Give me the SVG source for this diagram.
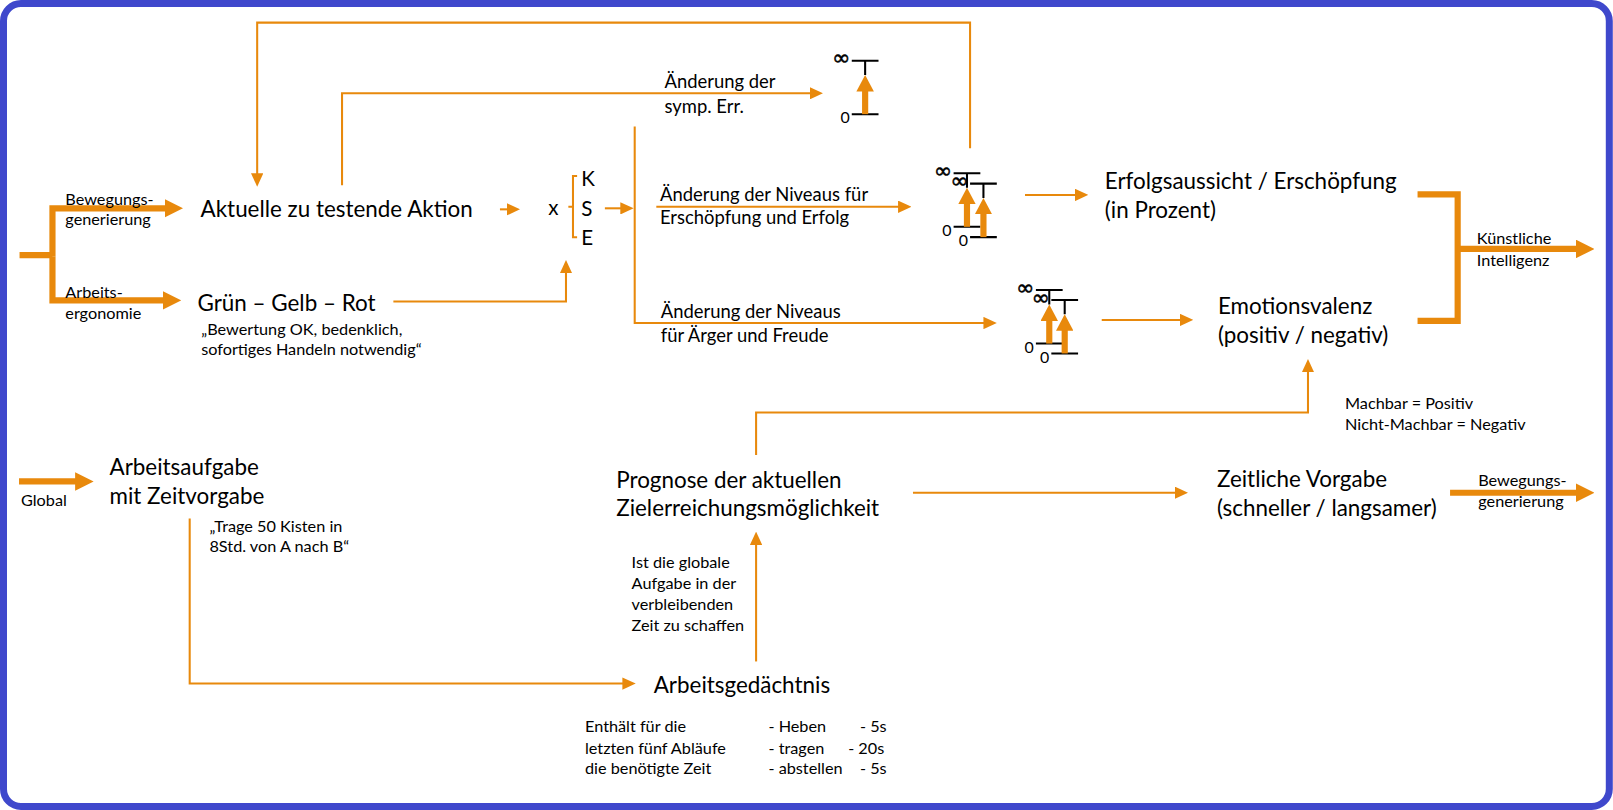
<svg xmlns="http://www.w3.org/2000/svg" width="1613" height="810" viewBox="0 0 1613 810">
<defs>
<style>
.t{font-family:Lato,"Liberation Sans",sans-serif;fill:#000}
.L{font-size:21.8px}
.M{font-size:17.9px}
.S{font-size:15.8px}
.inf{font-family:"DejaVu Sans",sans-serif;font-size:21px;fill:#000;stroke:#000;stroke-width:0.5}
.c{fill:none;stroke:#E8890C;stroke-width:2}
.ct{fill:none;stroke:#E8890C;stroke-width:6}
.a{marker-end:url(#ah)}
.at{marker-end:url(#aht)}
.k{stroke:#000;stroke-width:2;fill:none}
</style>
<marker id="ah" markerUnits="userSpaceOnUse" markerWidth="13" markerHeight="12" refX="1" refY="6" orient="auto"><path d="M0,0L13,6L0,12z" fill="#E8890C"/></marker>
<marker id="aht" markerUnits="userSpaceOnUse" markerWidth="18" markerHeight="18" refX="1" refY="9" orient="auto"><path d="M0,0L18,9L0,18z" fill="#E8890C"/></marker>
<marker id="ahg" markerUnits="userSpaceOnUse" markerWidth="16" markerHeight="17" refX="1" refY="8.5" orient="auto"><path d="M0,0L16,8.5L0,17z" fill="#E8890C"/></marker>
<g id="gauge">
<text class="inf" x="-32" y="4.5">∞</text>
<path class="k" d="M-13,0H13M0,0V14M-13,52H13"/>
<line x1="0" y1="52" x2="0" y2="29" stroke="#E8890C" stroke-width="6" marker-end="url(#ahg)"/>
<text class="t" x="-24" y="61" font-size="15.5">0</text>
</g>
</defs>
<rect width="1613" height="810" fill="#fff"/>
<g transform="scale(1.0287)">
<rect id="frame" x="3.4" y="3.4" width="1561" height="780.6" rx="17" fill="#fff" stroke="#3F48CC" stroke-width="6.8"/>

<g id="connectors">
<path class="c a" d="M943,144V22H250V169.5"/>
<path class="c a" d="M332.5,180V90.7H788"/>
<path class="c a" d="M486,203.5H493.5"/>
<path class="c a" d="M588,202.5H604"/>
<path class="c a" d="M617,123V314H957"/>
<path class="c a" d="M638,201H874"/>
<path class="c a" d="M996.4,189.5H1046"/>
<path class="c a" d="M1071,311H1148"/>
<path class="c a" d="M382.4,293H550.2V264.7"/>
<path class="c a" d="M735,442.3V401H1271.5V361"/>
<path class="c a" d="M887.5,479H1143"/>
<path class="c a" d="M184.4,504V664.5H606"/>
<path class="c a" d="M735,643V528.8"/>
<path class="c" d="M561,171H557V230.7H561M552.5,201H557"/>
<path class="ct" d="M19,248H51"/>
<path class="ct at" d="M51,249V202.5H161"/>
<path class="ct at" d="M51,249V292H159"/>
<path class="ct" d="M1378,189H1417V312H1378"/>
<path class="ct at" d="M1417,242H1533"/>
<path class="ct at" d="M1409.6,479H1533"/>
<path class="ct at" d="M18.5,468H74"/>
</g>

<g id="input-left">
<text class="t S" x="63.5" y="199">Bewegungs-</text>
<text class="t S" x="63.5" y="219">generierung</text>
<text class="t S" x="63.5" y="290">Arbeits-</text>
<text class="t S" x="63.5" y="310">ergonomie</text>
</g>
<g id="aktion"><text class="t L" x="195" y="211">Aktuelle zu testende Aktion</text></g>
<g id="ampel">
<text class="t L" x="192" y="302">Grün – Gelb – Rot</text>
<text class="t S" x="195.6" y="325.5">„Bewertung OK, bedenklich,</text>
<text class="t S" x="195.6" y="345">sofortiges Handeln notwendig“</text>
</g>
<g id="kse">
<text class="t" font-size="20" x="533" y="209">x</text>
<text class="t" font-size="20" x="565" y="181">K</text>
<text class="t" font-size="20" x="565" y="210">S</text>
<text class="t" font-size="20" x="565" y="238.5">E</text>
</g>
<g id="label-symp">
<text class="t M" x="646" y="86">Änderung der</text>
<text class="t M" x="646" y="110">symp. Err.</text>
</g>
<g id="label-niveau1">
<text class="t M" x="641.6" y="195.4">Änderung der Niveaus für</text>
<text class="t M" x="641.6" y="218">Erschöpfung und Erfolg</text>
</g>
<g id="label-niveau2">
<text class="t M" x="642.3" y="308.8">Änderung der Niveaus</text>
<text class="t M" x="642.3" y="332">für Ärger und Freude</text>
</g>
<g id="gauge-symp"><use href="#gauge" x="841" y="59"/></g>
<g id="gauge-erfolg"><use href="#gauge" x="940" y="168.5"/><use href="#gauge" x="956" y="178.5"/></g>
<g id="gauge-emotion"><use href="#gauge" x="1020" y="282"/><use href="#gauge" x="1035" y="291.6"/></g>
<g id="erfolg">
<text class="t L" x="1074" y="184">Erfolgsaussicht / Erschöpfung</text>
<text class="t L" x="1074" y="211.5">(in Prozent)</text>
</g>
<g id="emotion">
<text class="t L" x="1184" y="305.5">Emotionsvalenz</text>
<text class="t L" x="1184" y="333.5">(positiv / negativ)</text>
</g>
<g id="ki">
<text class="t S" x="1435.6" y="237.5">Künstliche</text>
<text class="t S" x="1435.6" y="259">Intelligenz</text>
</g>
<g id="machbar">
<text class="t S" x="1307.5" y="398">Machbar = Positiv</text>
<text class="t S" x="1307.5" y="418">Nicht-Machbar = Negativ</text>
</g>
<g id="prognose">
<text class="t L" x="599" y="474">Prognose der aktuellen</text>
<text class="t L" x="599" y="501.5">Zielerreichungsmöglichkeit</text>
</g>
<g id="zeitlich">
<text class="t L" x="1183" y="473.5">Zeitliche Vorgabe</text>
<text class="t L" x="1183" y="501.5">(schneller / langsamer)</text>
</g>
<g id="output-bewegung">
<text class="t S" x="1437" y="472">Bewegungs-</text>
<text class="t S" x="1437" y="493">generierung</text>
</g>
<g id="global"><text class="t S" x="20.4" y="492">Global</text></g>
<g id="arbeitsaufgabe">
<text class="t L" x="106.5" y="462">Arbeitsaufgabe</text>
<text class="t L" x="106.5" y="489.7">mit Zeitvorgabe</text>
<text class="t S" x="203.6" y="517">„Trage 50 Kisten in</text>
<text class="t S" x="203.6" y="536.5">8Std. von A nach B“</text>
</g>
<g id="frage">
<text class="t S" x="614" y="552">Ist die globale</text>
<text class="t S" x="614" y="572.5">Aufgabe in der</text>
<text class="t S" x="614" y="593">verbleibenden</text>
<text class="t S" x="614" y="613.5">Zeit zu schaffen</text>
</g>
<g id="arbeitsgedaechtnis">
<text class="t L" x="635.5" y="673.5">Arbeitsgedächtnis</text>
<text class="t S" x="568.7" y="712">Enthält für die</text>
<text class="t S" x="568.7" y="732.5">letzten fünf Abläufe</text>
<text class="t S" x="568.7" y="752.5">die benötigte Zeit</text>
<text class="t S" x="747" y="712">- Heben</text>
<text class="t S" x="836" y="712">- 5s</text>
<text class="t S" x="747" y="732.5">- tragen</text>
<text class="t S" x="824.5" y="732.5">- 20s</text>
<text class="t S" x="747" y="752.5">- abstellen</text>
<text class="t S" x="836" y="752.5">- 5s</text>
</g>
</g>
</svg>
